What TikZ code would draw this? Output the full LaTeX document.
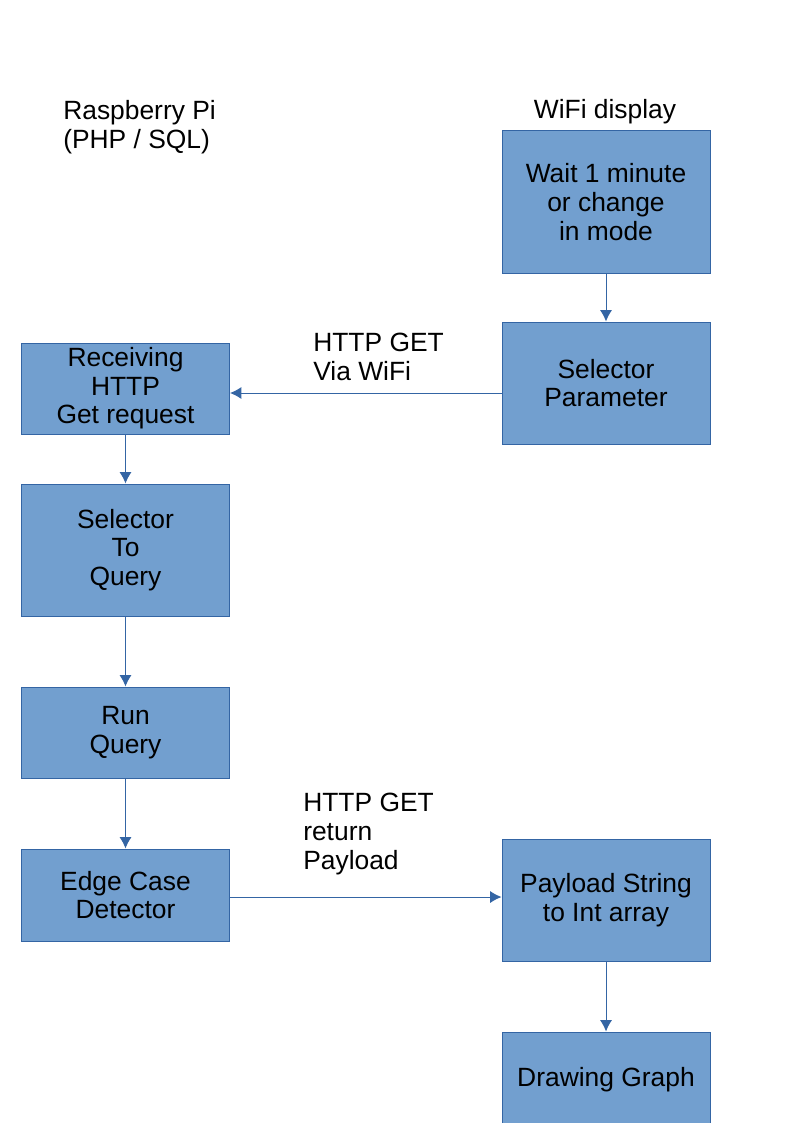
\documentclass[tikz,border=0pt]{standalone}
\usepackage{fontspec}
\setmainfont{Liberation Sans}
\usetikzlibrary{arrows.meta,positioning}
\definecolor{boxfill}{HTML}{729FCF}
\definecolor{boxline}{HTML}{3465A4}

\begin{document}
\begin{tikzpicture}[x=0.75pt, y=-0.75pt,
    stage/.style = {shape=rectangle, draw=boxline, line width=0.75pt,
        fill=boxfill, align=center, minimum width=156pt,
        font=\fontsize{19.8}{21.5}\selectfont},
    lbl/.style = {align=left, anchor=north west, inner sep=0pt,
        font=\fontsize{19.8}{21.5}\selectfont},
    post/.style = {-{Latex[length=8.5pt, width=9pt]}, boxline, line width=0.75pt}]

    \useasboundingbox (0,0) rectangle (794,1123);
    \clip (0,0) rectangle (794,1123);

    % column headings
    \node [lbl] (pi) at (63,100) {Raspberry Pi\\(PHP / SQL)};
    \node [lbl, anchor=center] (display) at (605,112) {WiFi display};

    % WiFi display side
    \node [stage, minimum height=106.5pt] (wait) at (606,202) {Wait 1 minute\\or change\\in mode};
    \node [stage, minimum height=91.5pt] (param) at (606,383) {Selector\\Parameter};

    % Raspberry Pi side
    \node [stage, minimum height=68.25pt] (recv) at (125.5,388.5) {Receiving\\HTTP\\Get request};
    \node [stage, minimum height=99pt] (query) at (125.5,550) {Selector\\To\\Query};
    \node [stage, minimum height=68.25pt] (run) at (125.5,732.5) {Run\\Query};
    \node [stage, minimum height=69pt] (edge) at (125.5,895) {Edge Case\\Detector};

    % back on the display
    \node [stage, minimum height=91.5pt] (payload) at (606,900) {Payload String\\to Int array};
    \node [stage, minimum height=72pt] (graph) at (606,1080) {Drawing Graph};

    \node [lbl] (get) at (313,333) {HTTP GET\\Via WiFi};
    \node [lbl] (ret) at (303,793) {HTTP GET\\return\\Payload};

    \draw [post] (wait) -- (param);
    \draw [post] ([yshift=-7.5pt]param.west) -- ([yshift=-7.5pt]param.west -| recv.east);
    \draw [post] (recv) -- (query);
    \draw [post] (query) -- (run);
    \draw [post] (run) -- (edge);
    \draw [post] ([yshift=-1.5pt]edge.east) -- ([yshift=-1.5pt]edge.east -| payload.west);
    \draw [post] (payload) -- (graph);
\end{tikzpicture}
\end{document}
